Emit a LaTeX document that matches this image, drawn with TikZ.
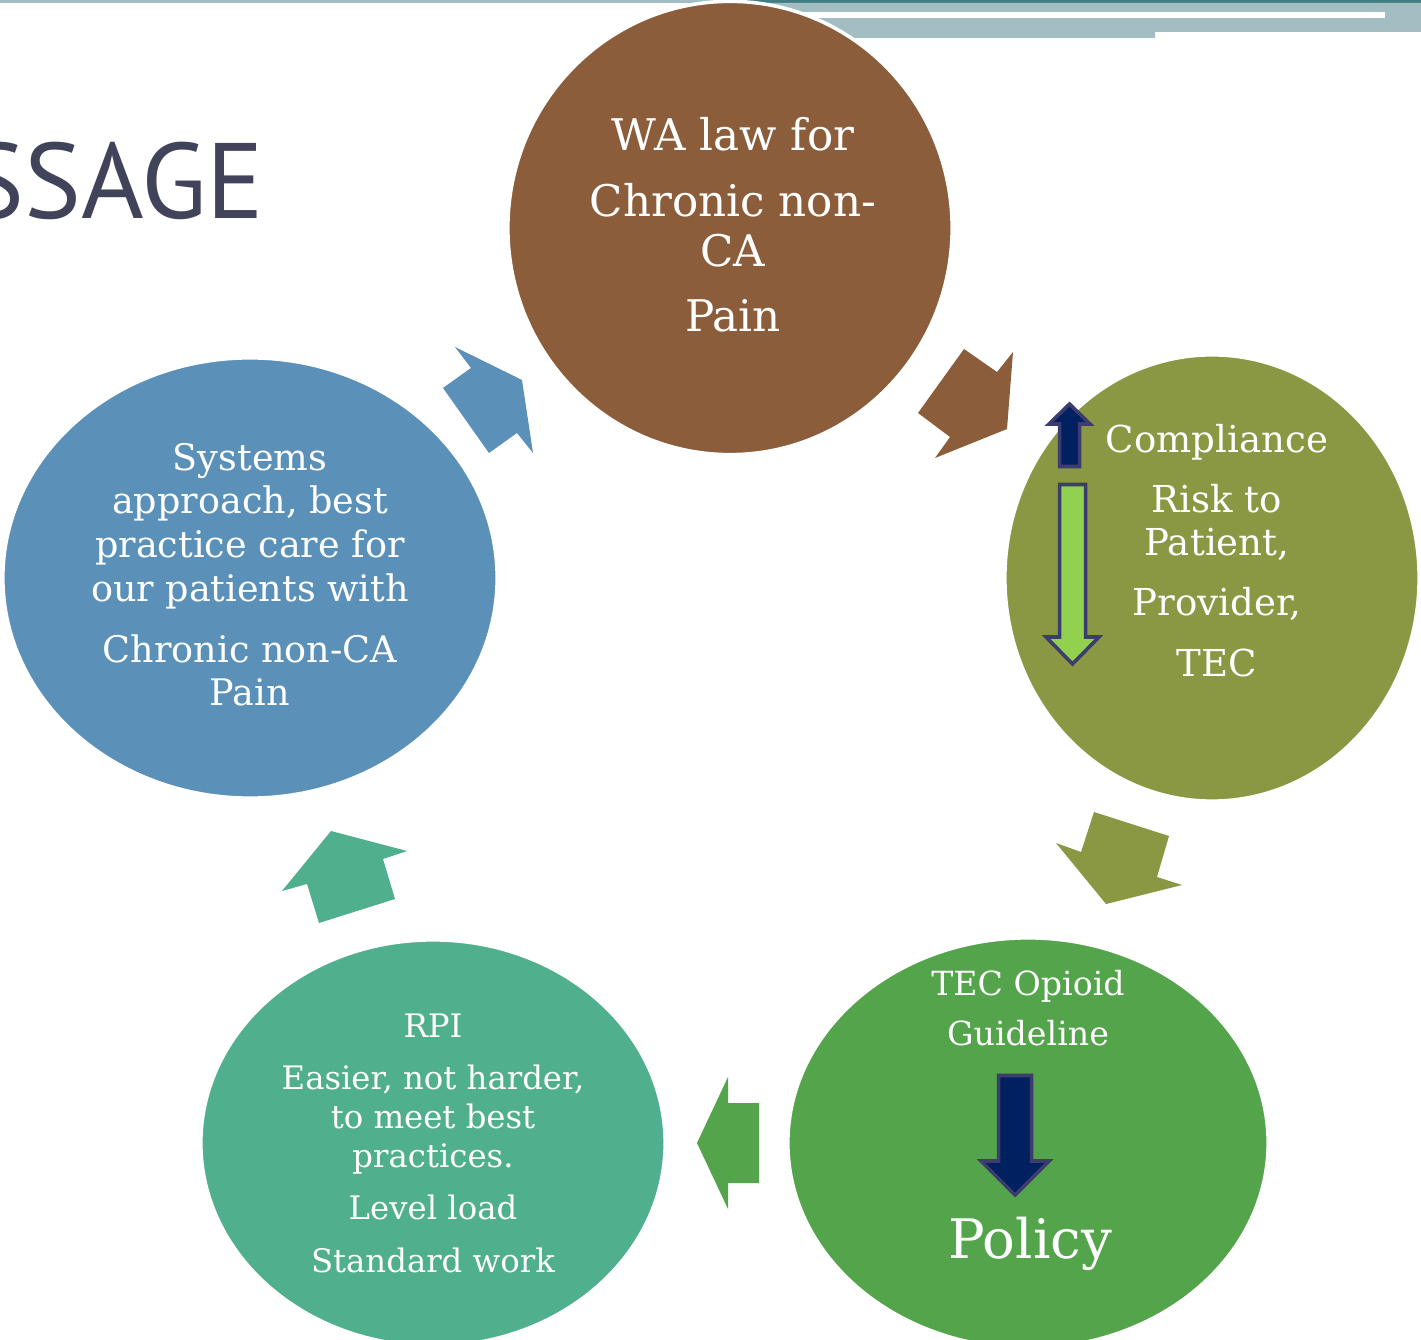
\documentclass[tikz,border=0pt]{standalone}
\usepackage{fontspec}
\setmainfont{DejaVu Serif}
\newfontfamily\headfont{PT Sans}
\usetikzlibrary{shapes.geometric}
\definecolor{bandlight}{HTML}{A2BEC2}
\definecolor{banddark}{HTML}{417D83}
\definecolor{headgray}{HTML}{41435A}
\definecolor{lawbrown}{HTML}{8B5D3B}
\definecolor{riskolive}{HTML}{8A9743}
\definecolor{policygreen}{HTML}{53A44A}
\definecolor{rpiteal}{HTML}{50AF8C}
\definecolor{sysblue}{HTML}{5B91B8}
\definecolor{navyfill}{HTML}{002060}
\definecolor{limefill}{HTML}{92D050}
\definecolor{arrowedge}{HTML}{3C3C6E}
\begin{document}
\begin{tikzpicture}[x=0.01cm,y=-0.01cm]
\tikzstyle{disc}=[ellipse,draw=white,line width=1pt,inner sep=0pt]
\tikzstyle{txt}=[text=white,align=center,inner sep=0pt,anchor=base]
\tikzstyle{blk}=[draw=arrowedge,line width=1pt,line join=miter]
\clip (0,0) rectangle (1421,1340);

\fill[bandlight] (0,0) rectangle (1421,3);
\fill[banddark] (740,0) rectangle (1421,3);
\fill[bandlight] (760,3) -- (1421,3) -- (1421,32) -- (1155,32) -- (1155,38) -- (760,38) -- cycle;
\fill[white] (760,12) rectangle (1385,18);

\node[text=headgray,font=\headfont\fontsize{30.5}{36}\selectfont,inner sep=0pt,anchor=base east] (head) at (265,219) {SSAGE};

\node[disc,fill=lawbrown,minimum width=4.44cm,minimum height=4.53cm]    (law)     at (730,228)  {};
\node[disc,fill=riskolive,minimum width=4.14cm,minimum height=4.46cm]   (risk)    at (1212,578) {};
\node[disc,fill=policygreen,minimum width=4.80cm,minimum height=4.10cm] (policy)  at (1028,1143) {};
\node[disc,fill=rpiteal,minimum width=4.64cm,minimum height=4.06cm]     (rpi)     at (433,1143) {};
\node[disc,fill=sysblue,minimum width=4.94cm,minimum height=4.40cm]     (systems) at (250,578)  {};

\fill[lawbrown]    (964,349) -- (997,372) -- (1013,352) -- (1007,429) -- (935,458) -- (950,437) -- (918,413) -- cycle;
\fill[riskolive]   (1094,812) -- (1169,836) -- (1157,877) -- (1182,885) -- (1106,904) -- (1056,843) -- (1081,852) -- cycle;
\fill[policygreen] (759,1103) -- (759,1183) -- (728,1183) -- (728,1209) -- (697,1143) -- (728,1077) -- (728,1103) -- cycle;
\fill[rpiteal]     (331,831) -- (407,851) -- (383,859) -- (395,899) -- (319,923) -- (307,884) -- (282,891) -- cycle;
\fill[sysblue]     (455,347) -- (522,380) -- (533,453) -- (517,433) -- (489,453) -- (443,388) -- (471,368) -- cycle;

\filldraw[blk,fill=navyfill] (1059.5,466.5) -- (1059.5,424) -- (1049,424) -- (1069.5,404) -- (1090,424) -- (1079.5,424) -- (1079.5,466.5) -- cycle;
\filldraw[blk,fill=limefill] (1059.5,484.5) -- (1085.5,484.5) -- (1085.5,637) -- (1099,637) -- (1072.5,664) -- (1046,637) -- (1059.5,637) -- cycle;
\filldraw[blk,fill=navyfill] (998.5,1075.5) -- (1031.5,1075.5) -- (1031.5,1161) -- (1049,1161) -- (1015,1195) -- (981,1161) -- (998.5,1161) -- cycle;

\node[txt,font=\fontsize{12.4}{14.2}\selectfont] (lawtxt) at (733,332)
  {WA law for\\[4.6pt]Chronic non-\\CA\\[4.3pt]Pain};
\node[txt,font=\fontsize{10.55}{12.2}\selectfont] (risktxt) at (1217,677)
  {Compliance\\[4.8pt]Risk to\\Patient,\\[4.8pt]Provider,\\[5.3pt]TEC};
\node[txt,font=\fontsize{9.45}{11.3}\selectfont] (policytxt) at (1028,1045)
  {TEC Opioid\\[2.9pt]Guideline};
\node[txt,font=\fontsize{15.5}{18}\selectfont] (policyword) at (1030,1258) {Policy};
\node[txt,font=\fontsize{9.2}{11.1}\selectfont] (rpitxt) at (433,1272)
  {RPI\\[3.7pt]Easier, not harder,\\to meet best\\practices.\\[3.7pt]Level load\\[3.9pt]Standard work};
\node[txt,font=\fontsize{10.4}{12.5}\selectfont] (systxt) at (250,706)
  {Systems\\approach, best\\practice care for\\our patients with\\[4.6pt]Chronic non-CA\\Pain};
\end{tikzpicture}
\end{document}
